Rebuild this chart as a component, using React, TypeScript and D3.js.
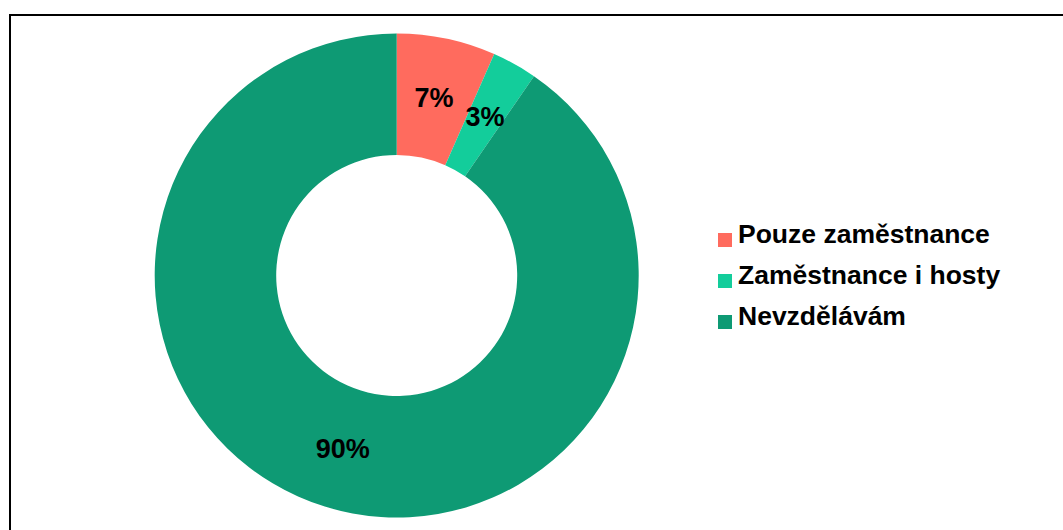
import React from "react";
import * as d3 from "d3";

const categories = ["Pouze zaměstnance", "Zaměstnance i hosty", "Nevzdělávám"];
const values = [6.6, 3.0, 90.4];
const labels = ["7%", "3%", "90%"];
const colors = ["#FF6B5E", "#13CD9B", "#0E9A74"];

const W = 1063;
const H = 530;

export default function App() {
  const cx = 396.7;
  const cy = 275.5;
  const rOuter = 242;
  const rInner = 120.5;

  const pie = d3.pie<number>().sort(null).value((d) => d);
  const arcs = pie(values);
  const arc = d3.arc<d3.PieArcDatum<number>>().innerRadius(rInner).outerRadius(rOuter);

  const legendX = 718;
  const legendY0 = 243;
  const legendStep = 41;

  return (
    <svg
      width={W}
      height={H}
      style={{ position: "absolute", left: 0, top: 0, background: "#fff" }}
      fontFamily="'Liberation Sans', Arial, sans-serif"
    >
      <rect x={0} y={0} width={W} height={H} fill="#fff" />
      <rect x={10} y={15} width={W + 50} height={H + 50} fill="none" stroke="#000" strokeWidth={2} />
      <g transform={`translate(${cx},${cy})`}>
        {arcs.map((a, i) => (
          <path key={i} d={arc(a) || ""} fill={colors[i]} />
        ))}
        {arcs.map((a, i) => {
          const [x, y] = arc.centroid(a);
          return (
            <text
              key={"l" + i}
              x={x}
              y={y}
              textAnchor="middle"
              dominantBaseline="central"
              fontSize={27}
              fontWeight="bold"
              fill="#000"
            >
              {labels[i]}
            </text>
          );
        })}
      </g>
      {categories.map((c, i) => (
        <g key={"lg" + i} transform={`translate(${legendX},${legendY0 + i * legendStep})`}>
          <rect x={0} y={-10} width={14} height={14} fill={colors[i]} />
          <text x={20} y={0} fontSize={26.5} fontWeight="bold" fill="#000">
            {c}
          </text>
        </g>
      ))}
    </svg>
  );
}
